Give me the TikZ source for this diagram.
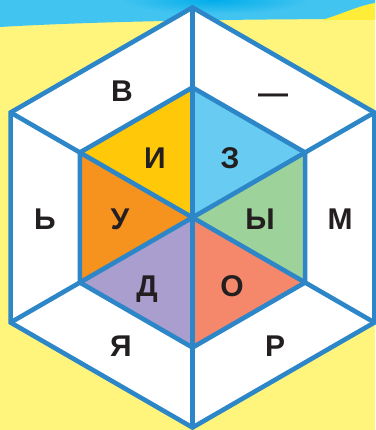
\documentclass[tikz,border=0pt]{standalone}
\usepackage{fontspec}
\setmainfont{Liberation Sans}
\definecolor{bgyellow}{RGB}{255,245,125}
\definecolor{skyblue}{RGB}{66,196,240}
\definecolor{deepsky}{RGB}{0,172,234}
\definecolor{sunyellow}{RGB}{255,234,30}
\definecolor{hexblue}{RGB}{44,134,199}
\definecolor{inkblack}{RGB}{35,31,32}
\definecolor{cI}{RGB}{255,201,10}
\definecolor{cZ}{RGB}{104,204,242}
\definecolor{cY}{RGB}{158,210,155}
\definecolor{cO}{RGB}{245,136,106}
\definecolor{cD}{RGB}{169,158,206}
\definecolor{cU}{RGB}{246,146,30}
\begin{document}
\begin{tikzpicture}[x=1pt,y=-1pt,
  hexline/.style={draw=hexblue,line width=4.6pt,line join=miter,line cap=butt},
  letter/.style={font=\fontsize{30}{30}\selectfont\bfseries, text=inkblack,
    inner sep=0pt, text height=21.5pt, text depth=0pt, anchor=center}]
\useasboundingbox (0,0) rectangle (375,430);
% background
\fill[bgyellow] (0,0) rectangle (375,430);
\fill[skyblue] (0,0) -- (375,0) -- (375,19) .. controls (250,19) and (100,21) .. (0,27) -- cycle;
\shade[inner color=deepsky, outer color=skyblue] (215,0) ellipse [x radius=95pt, y radius=14pt];
\fill[sunyellow!70!bgyellow] (322,20) .. controls (342,14) and (358,6) .. (375,3) -- (375,20) -- cycle;
% coordinates
\coordinate (C) at (192.5,217.5);
\coordinate (OT) at (192.5,7.5);
\coordinate (OUR) at (374.4,112.5);
\coordinate (OLR) at (374.4,322.5);
\coordinate (OB) at (192.5,427.5);
\coordinate (OLL) at (10.6,322.5);
\coordinate (OUL) at (10.6,112.5);
\coordinate (IT) at (192.5,87.5);
\coordinate (IUR) at (305.1,152.5);
\coordinate (ILR) at (305.1,282.5);
\coordinate (IB) at (192.5,347.5);
\coordinate (ILL) at (79.9,282.5);
\coordinate (IUL) at (79.9,152.5);
% fills
\fill[white] (OT) -- (OUR) -- (OLR) -- (OB) -- (OLL) -- (OUL) -- cycle;
\fill[cI] (C) -- (IUL) -- (IT) -- cycle;
\fill[cZ] (C) -- (IT) -- (IUR) -- cycle;
\fill[cY] (C) -- (IUR) -- (ILR) -- cycle;
\fill[cO] (C) -- (ILR) -- (IB) -- cycle;
\fill[cD] (C) -- (IB) -- (ILL) -- cycle;
\fill[cU] (C) -- (ILL) -- (IUL) -- cycle;
% lines
\draw[hexline] (OT) -- (OB);
\draw[hexline] (OUL) -- (OLR);
\draw[hexline] (OUR) -- (OLL);
\draw[hexline] (IT) -- (IUR) -- (ILR) -- (IB) -- (ILL) -- (IUL) -- cycle;
\draw[hexline] (OT) -- (OUR) -- (OLR) -- (OB) -- (OLL) -- (OUL) -- cycle;
% letters
\node[letter] (lV) at (122,91) {В};
\node[letter] (lDash) at (273,93) {—};
\node[letter] (lI) at (155,158) {И};
\node[letter] (lZ) at (230,158) {З};
\node[letter] (lSoft) at (45,219) {Ь};
\node[letter] (lU) at (120,219) {У};
\node[letter] (lY) at (260,219) {Ы};
\node[letter] (lM) at (340,219) {М};
\node[letter] (lD) at (147,286) {Д};
\node[letter] (lO) at (232,286) {О};
\node[letter] (lYa) at (121,346) {Я};
\node[letter] (lR) at (275,346) {Р};
\end{tikzpicture}
\end{document}
